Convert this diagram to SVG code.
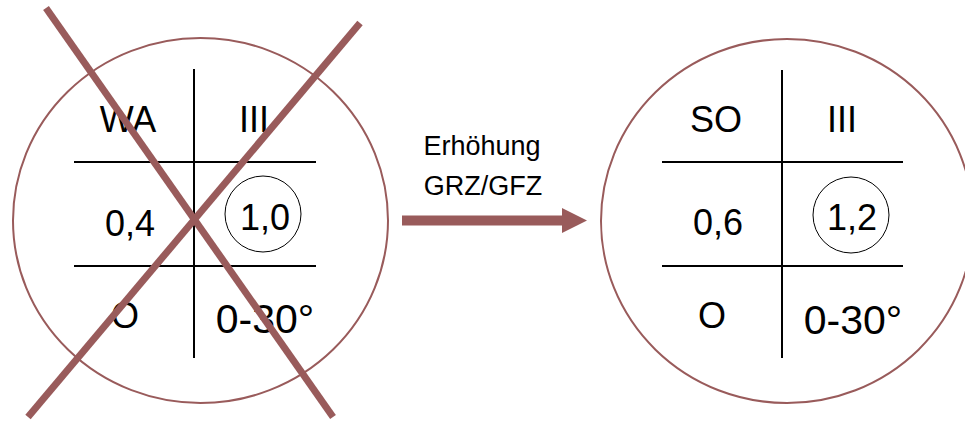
<svg xmlns="http://www.w3.org/2000/svg" width="965" height="422" viewBox="0 0 965 422">
<style>
  .big { fill: none; stroke: #995b5b; stroke-width: 2; }
  .grid { stroke: #000; stroke-width: 2; fill: none; }
  .ring { stroke: #000; stroke-width: 1; fill: none; }
  .t { font-family: "Liberation Sans", Arial, sans-serif; font-size: 36px; fill: #000; text-anchor: middle; }
  .t2 { font-family: "Liberation Sans", Arial, sans-serif; font-size: 41px; fill: #000; text-anchor: middle; }
  .lbl { font-family: "Liberation Sans", Arial, sans-serif; font-size: 27px; fill: #000; text-anchor: middle; }
  .cross { stroke: #995b5b; stroke-width: 7; }
</style>
<rect width="965" height="422" fill="#fff"/>
<g id="before">
  <ellipse class="big" cx="200.5" cy="220.5" rx="187.5" ry="182.5"/>
  <line class="grid" x1="194" y1="69" x2="194" y2="358"/>
  <line class="grid" x1="74" y1="162" x2="316" y2="162"/>
  <line class="grid" x1="74" y1="266" x2="316" y2="266"/>
  <circle class="ring" cx="263" cy="214" r="38"/>
  <text class="t" x="128" y="132">WA</text>
  <text class="t" x="254" y="132">III</text>
  <text class="t" x="130" y="236">0,4</text>
  <text class="t" x="265" y="230">1,0</text>
  <text class="t" x="125" y="328">O</text>
  <text class="t2" x="265" y="333">0-30°</text>
  <line class="cross" x1="46" y1="8" x2="333" y2="417"/>
  <line class="cross" x1="360" y1="23" x2="28" y2="417"/>
</g>
<g id="after">
  <ellipse class="big" cx="787" cy="221" rx="186" ry="182"/>
  <line class="grid" x1="782" y1="70" x2="782" y2="358"/>
  <line class="grid" x1="662" y1="162" x2="903" y2="162"/>
  <line class="grid" x1="662" y1="266" x2="903" y2="266"/>
  <circle class="ring" cx="851" cy="215" r="38"/>
  <text class="t" x="716" y="132">SO</text>
  <text class="t" x="842" y="132">III</text>
  <text class="t" x="718" y="235">0,6</text>
  <text class="t" x="852" y="230">1,2</text>
  <text class="t" x="712" y="328">O</text>
  <text class="t2" x="853" y="334">0-30°</text>
</g>
<g id="connectors">
  <polygon fill="#995b5b" points="402,215.5 562,215.5 562,208 587,220.5 562,233 562,225.5 402,225.5"/>
  <text class="lbl" x="482" y="155">Erhöhung</text>
  <text class="lbl" x="483" y="195">GRZ/GFZ</text>
</g>
</svg>
